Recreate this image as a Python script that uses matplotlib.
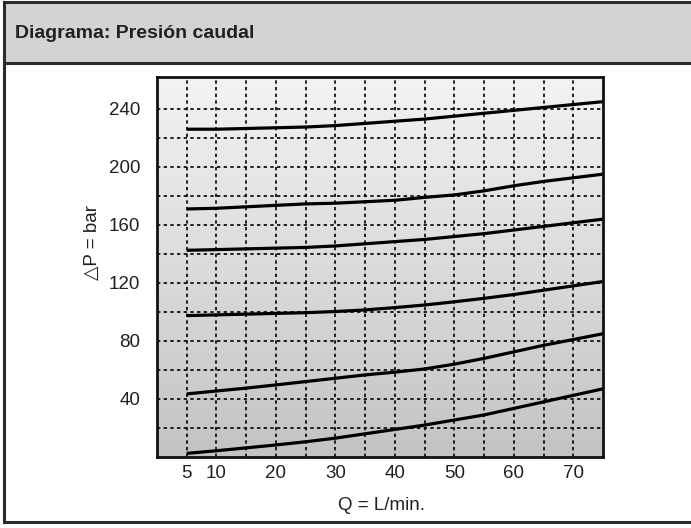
import numpy as np
import matplotlib
matplotlib.use("Agg")
import matplotlib.pyplot as plt
from matplotlib.patches import Rectangle
from matplotlib.colors import LinearSegmentedColormap

plt.rcParams['font.family'] = ['Liberation Sans', 'DejaVu Sans']

# caudal (L/min) y presión (bar) de cada curva
q = [5, 10, 15, 20, 25, 30, 35, 40, 45, 50, 55, 60, 65, 70, 75]
p_225 = [226, 226, 226.5, 227, 227.5, 228.5, 230, 231.5, 233, 235, 237, 239, 241, 243, 245]
p_170 = [171, 171.5, 172.5, 173.5, 174.5, 175, 176, 177, 179, 180.7, 183.5, 187, 190, 192.5, 195]
p_140 = [142.5, 143, 143.5, 144, 144.5, 145.5, 147, 148.5, 150, 152, 154, 156.5, 159, 161.5, 164]
p_100 = [97.5, 98, 98.5, 99, 99.5, 100.3, 101.4, 103, 104.8, 107, 109.4, 112, 115, 118, 121]
p_40 = [43.5, 45.5, 47.5, 49.7, 52, 54.3, 56.6, 58.5, 60.7, 64, 68, 72.5, 77, 81, 85]
p_0 = [2.5, 4.3, 6.3, 8.3, 10.5, 13, 16, 19, 22, 25.5, 29, 33.5, 38, 42.5, 47]

x_ticks = [5, 10, 20, 30, 40, 50, 60, 70]
x_minor = [15, 25, 35, 45, 55, 65]
y_ticks = [40, 80, 120, 160, 200, 240]
y_minor = [20, 60, 100, 140, 180, 220]

fig = plt.figure(figsize=(6.91, 5.28), dpi=100)

# barra de título y marco exterior
fig.patches.append(Rectangle((4 / 691, 465 / 528), 1.0, 61 / 528, transform=fig.transFigure,
                             facecolor='#d1d3d4', edgecolor='none', zorder=-1))
frame = dict(transform=fig.transFigure, color='#2b2b2b', lw=2.2)
fig.lines.append(plt.Line2D([4 / 691, 4 / 691], [6 / 528, 526 / 528], **frame))
fig.lines.append(plt.Line2D([4 / 691, 1], [6 / 528, 6 / 528], **frame))
fig.lines.append(plt.Line2D([4 / 691, 1], [526 / 528, 526 / 528], **frame))
fig.lines.append(plt.Line2D([4 / 691, 1], [465 / 528, 465 / 528], **frame))
fig.text(15 / 691, 494 / 528, 'Diagrama: Presión caudal', fontsize=14, fontweight='bold',
         color='#231f20', ha='left', va='center')

ax = fig.add_axes([157 / 691, 71 / 528, 446 / 691, 380 / 528])

# fondo degradado del área de trazado (claro arriba, oscuro abajo)
grad = np.linspace(0, 1, 256).reshape(-1, 1)
cmap = LinearSegmentedColormap.from_list('fondo', ['#f3f3f3', '#c3c3c3'])
ax.imshow(grad, cmap=cmap, extent=[0, 75, 0, 262], origin='upper',
          aspect='auto', zorder=0, interpolation='bicubic')
ax.set_xlim(0, 75)
ax.set_ylim(0, 262)

ax.set_xticks(x_ticks)
ax.set_xticks(x_minor, minor=True)
ax.set_yticks(y_ticks)
ax.set_yticks(y_minor, minor=True)
ax.tick_params(which='both', length=0, labelsize=13.5, labelcolor='#231f20')
ax.tick_params(axis='x', pad=6)
ax.tick_params(axis='y', pad=12)
ax.grid(which='both', color='black', linestyle=(0, (2, 2)), linewidth=1.2, zorder=1)
ax.set_axisbelow(False)

for p in [p_225, p_170, p_140, p_100, p_40, p_0]:
    ax.plot(q, p, color='black', lw=2.3, solid_capstyle='butt', zorder=3)

for s in ax.spines.values():
    s.set_linewidth(2)
    s.set_color('#111111')
    s.set_zorder(4)

fig.text(381 / 691, 23 / 528, 'Q = L/min.', fontsize=13.5, color='#231f20', ha='center', va='center')
fig.text(92 / 691, 285 / 528, '△P = bar', fontsize=13.5, color='#231f20', ha='center', va='center',
         rotation=90, family=['Liberation Sans', 'DejaVu Sans'])

fig.savefig('out.png', dpi=100)
